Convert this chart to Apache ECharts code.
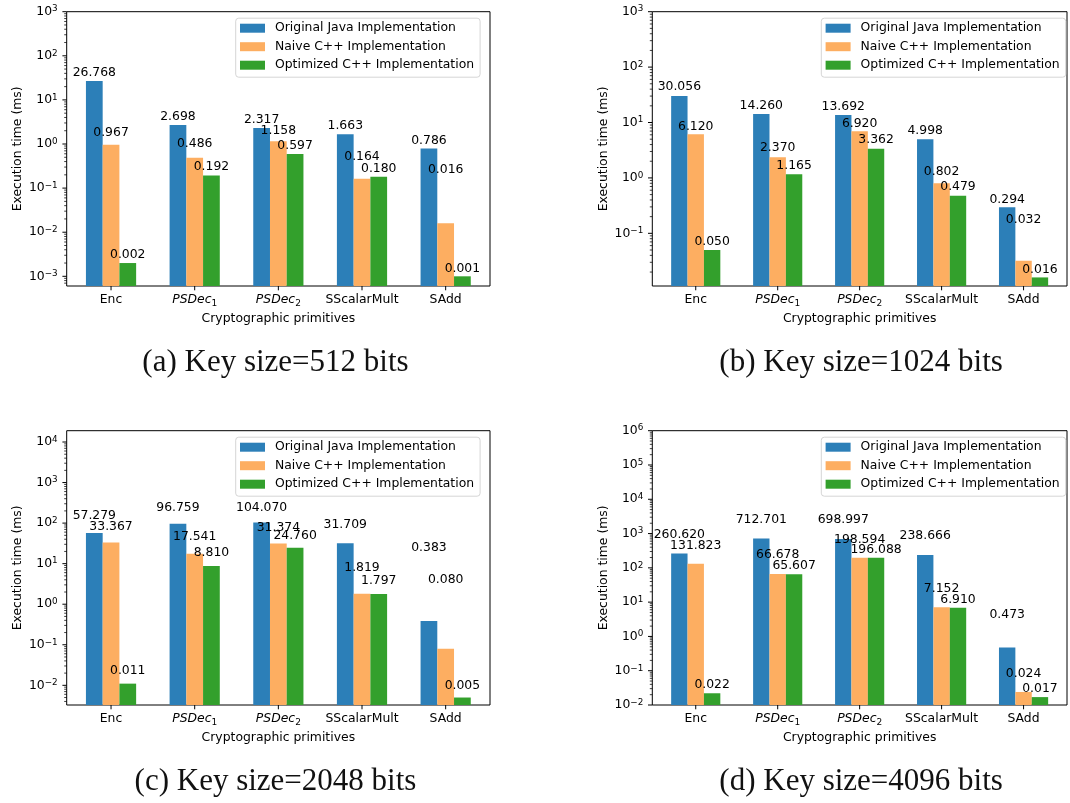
<!DOCTYPE html>
<html>
<head>
<meta charset="utf-8">
<script src="https://cdn.jsdelivr.net/npm/echarts@6/dist/echarts.min.js"></script>
<style>
  html, body { margin: 0; padding: 0; background: #ffffff; }
  #chart { width: 1070px; height: 803px; }
</style>
</head>
<body>
<div id="chart"></div>
<script>
// Cryptographic primitives on the x axis
const primitives = ['Enc', 'PSDec1', 'PSDec2', 'SScalarMult', 'SAdd'];
const implementations = ['Original Java Implementation', 'Naive C++ Implementation', 'Optimized C++ Implementation'];
const keySizes = [512, 1024, 2048, 4096];

// Execution times (ms) per key size
const java512 = [26.768, 2.698, 2.317, 1.663, 0.786];
const naive512 = [0.967, 0.486, 1.158, 0.164, 0.016];
const opt512 = [0.002, 0.192, 0.597, 0.180, 0.001];

const java1024 = [30.056, 14.260, 13.692, 4.998, 0.294];
const naive1024 = [6.120, 2.370, 6.920, 0.802, 0.032];
const opt1024 = [0.050, 1.165, 3.362, 0.479, 0.016];

const java2048 = [57.279, 96.759, 104.070, 31.709, 0.383];
const naive2048 = [33.367, 17.541, 31.374, 1.819, 0.080];
const opt2048 = [0.011, 8.810, 24.760, 1.797, 0.005];

const java4096 = [260.620, 712.701, 698.997, 238.666, 0.473];
const naive4096 = [131.823, 66.678, 198.594, 7.152, 0.024];
const opt4096 = [0.022, 65.607, 196.088, 6.910, 0.017];

// Log-axis limits of each panel
const yMinLimits = [6.03e-4, 0.0112, 0.00327, 0.01];
const yMaxLimits = [1000, 1000, 19000, 1000000];

const panelValues = [
  [java512, naive512, opt512],
  [java1024, naive1024, opt1024],
  [java2048, naive2048, opt2048],
  [java4096, naive4096, opt4096]
];

// Layout: gap (px) between each bar top and the centre of its value label
const labelRaise = [
  [[8, 8, 8, 8, 8], [12, 14, 10, 22, 53], [8, 9, 8, 8, 8]],
  [[9, 8, 8, 8, 8], [8, 9, 8, 11, 41], [8, 8, 9, 9, 8]],
  [[17, 16, 15, 19, 73], [16, 17, 16, 26, 69], [13, 13, 12, 13, 12]],
  [[19, 19, 19, 19, 33], [18, 19, 18, 18, 18], [8, 8, 8, 8, 8]]
];

const COLORS = ['#2c7fb8', '#fdae61', '#33a02c'];
const FONT = '"DejaVu Sans", Verdana, sans-serif';
const FS = 12.4;
const BAR_W = 0.2;
const X_MIN = -0.53, X_MAX = 4.53;

const panels = [
  { left: 66.7, top: 11.7 },
  { left: 652.3, top: 11.7 },
  { left: 66.7, top: 430.7 },
  { left: 652.3, top: 430.7 }
];
const GRID_W = 423.3, GRID_H = 274.3;
const captionLetters = ['a', 'b', 'c', 'd'];

function supLabel(v) {
  const e = Math.log10(v);
  const r = Math.round(e);
  if (Math.abs(e - r) > 1e-6) return '';
  const exp = r < 0 ? '\u2212' + (-r) : String(r);
  return '{b|10}{s|' + exp + '}';
}

function catLabel(v) {
  const r = Math.round(v);
  if (Math.abs(v - r) > 1e-6 || r < 0 || r >= primitives.length) return '';
  const name = primitives[r];
  const m = name.match(/^PSDec(\d)$/);
  if (m) return '{it|PSDec}{sub|' + m[1] + '}';
  return '{n|' + name + '}';
}

function tickData(p) {
  const lo = yMinLimits[p], hi = yMaxLimits[p];
  const out = [];
  for (let i = 0; i < primitives.length; i++) out.push([i, lo, 0]);
  for (let e = Math.floor(Math.log10(lo)); e <= Math.ceil(Math.log10(hi)); e++) {
    for (let m = 1; m <= 9; m++) {
      const v = m * Math.pow(10, e);
      if (v >= lo * (1 - 1e-9) && v <= hi * (1 + 1e-9)) out.push([X_MIN, v, m === 1 ? 1 : 2]);
    }
  }
  return out;
}

function tickRenderer(params, api) {
  const cs = params.coordSys;
  const kind = api.value(2);
  if (kind === 0) {
    const x = api.coord([api.value(0), api.value(1)])[0];
    const b = cs.y + cs.height;
    return { type: 'line', shape: { x1: x, y1: b, x2: x, y2: b + 4.3 }, style: { stroke: '#000', lineWidth: 1 } };
  }
  const y = api.coord([X_MIN, api.value(1)])[1];
  const len = kind === 1 ? 4.3 : 2.5;
  return { type: 'line', shape: { x1: cs.x - len, y1: y, x2: cs.x, y2: y },
           style: { stroke: '#000', lineWidth: kind === 1 ? 1 : 0.75 } };
}

function barRenderer(p, s) {
  return function (params, api) {
    const cat = api.value(0), val = api.value(1);
    const cs = params.coordSys;
    const off = (s - 1) * BAR_W;
    const tl = api.coord([cat + off - BAR_W / 2, val]);
    const tr = api.coord([cat + off + BAR_W / 2, val]);
    const bottom = cs.y + cs.height;
    const raise = labelRaise[p][s][params.dataIndex];
    return {
      type: 'group',
      children: [
        { type: 'rect', shape: { x: tl[0], y: tl[1], width: tr[0] - tl[0], height: bottom - tl[1] },
          style: { fill: COLORS[s] } },
        { type: 'text', z2: 10,
          style: { text: val.toFixed(3), x: (tl[0] + tr[0]) / 2, y: tl[1] - raise,
                   align: 'center', verticalAlign: 'middle', textAlign: 'center', textVerticalAlign: 'middle',
                   font: FS + 'px ' + FONT, fill: '#000' } }
      ]
    };
  };
}

const grid = [], xAxis = [], yAxis = [], series = [], legend = [], graphic = [];

panels.forEach(function (pos, p) {
  grid.push({ left: pos.left, top: pos.top, width: GRID_W, height: GRID_H,
              show: true, borderColor: '#000', borderWidth: 1, backgroundColor: 'transparent' });
  xAxis.push({
    gridIndex: p, type: 'value', min: X_MIN, max: X_MAX, splitNumber: 5,
    name: 'Cryptographic primitives', nameLocation: 'middle', nameGap: 27,
    nameTextStyle: { fontFamily: FONT, fontSize: FS, color: '#000' },
    axisLine: { show: false }, axisTick: { show: false }, splitLine: { show: false },
    axisLabel: {
      margin: 6, color: '#000', fontFamily: FONT, fontSize: FS,
      formatter: catLabel, showMinLabel: true, showMaxLabel: true,
      rich: {
        n: { fontFamily: FONT, fontSize: FS, lineHeight: 16, color: '#000' },
        it: { fontFamily: FONT, fontSize: FS, fontStyle: 'italic', lineHeight: 16, color: '#000' },
        sub: { fontFamily: FONT, fontSize: 9, lineHeight: 8, verticalAlign: 'bottom', color: '#000' }
      }
    }
  });
  yAxis.push({
    gridIndex: p, type: 'log', logBase: 10, min: yMinLimits[p], max: yMaxLimits[p], splitNumber: 5,
    name: 'Execution time (ms)', nameLocation: 'middle', nameGap: 43, nameRotate: 90,
    nameTextStyle: { fontFamily: FONT, fontSize: FS, color: '#000' },
    axisLine: { show: false }, axisTick: { show: false }, splitLine: { show: false },
    axisLabel: {
      margin: 9, color: '#000', fontFamily: FONT, fontSize: FS, formatter: supLabel,
      rich: {
        b: { fontFamily: FONT, fontSize: FS, lineHeight: 14, color: '#000' },
        s: { fontFamily: FONT, fontSize: 8.8, lineHeight: 8, verticalAlign: 'top', color: '#000' }
      }
    }
  });
  panelValues[p].forEach(function (vals, s) {
    series.push({
      type: 'custom', name: implementations[s], xAxisIndex: p, yAxisIndex: p,
      coordinateSystem: 'cartesian2d', clip: false, silent: true,
      itemStyle: { color: COLORS[s] },
      dimensions: ['x', 'y'], encode: { x: 0, y: 1 },
      data: vals.map(function (v, i) { return [i, v]; }),
      renderItem: barRenderer(p, s)
    });
  });
  series.push({
    type: 'custom', name: 'ticks', xAxisIndex: p, yAxisIndex: p,
    coordinateSystem: 'cartesian2d', clip: false, silent: true,
    dimensions: ['x', 'y', 'k'], encode: { x: 0, y: 1 },
    data: tickData(p), renderItem: tickRenderer, z: 5
  });
  legend.push({
    data: implementations, orient: 'vertical', left: pos.left + 169, top: pos.top + 6.5,
    icon: 'rect', itemWidth: 25, itemHeight: 9, itemGap: 4.5, selectedMode: false,
    padding: [3, 6, 5, 4.3], backgroundColor: '#ffffff', borderColor: '#d5d5d5', borderWidth: 1, borderRadius: 3,
    textStyle: { fontFamily: FONT, fontSize: FS, color: '#000', lineHeight: 14, padding: [0, 0, 0, 5] }
  });
  graphic.push({
    type: 'text', x: pos.left + 208.8, y: pos.top + 351.5,
    style: { text: '(' + captionLetters[p] + ') Key size=' + keySizes[p] + ' bits',
             font: '31px "Liberation Serif", "DejaVu Serif", serif', fill: '#111',
             align: 'center', verticalAlign: 'middle', textAlign: 'center', textVerticalAlign: 'middle' }
  });
});

const chart = echarts.init(document.getElementById('chart'), null, { renderer: 'canvas' });
chart.setOption({
  animation: false,
  backgroundColor: '#ffffff',
  grid: grid, xAxis: xAxis, yAxis: yAxis, series: series, legend: legend, graphic: graphic
});
</script>
</body>
</html>
